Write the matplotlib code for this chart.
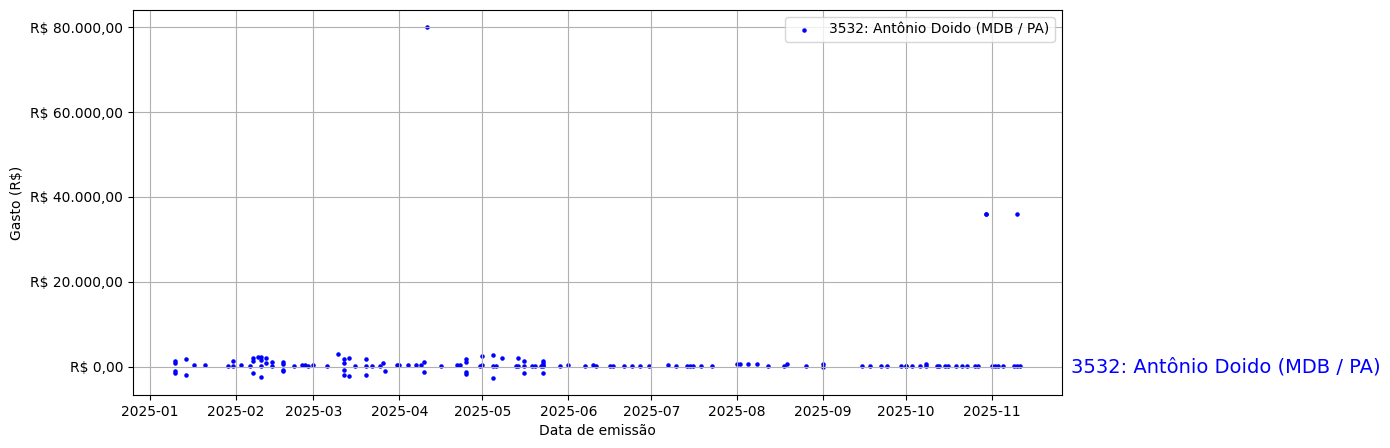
import numpy as np
import pandas as pd
import matplotlib
matplotlib.use("Agg")
import matplotlib.pyplot as plt
from matplotlib.ticker import FuncFormatter

label = "3532: Antônio Doido (MDB / PA)"

datas = [
    "2025-01-10", "2025-01-10", "2025-01-10", "2025-01-10",
    "2025-01-14", "2025-01-14", "2025-01-17", "2025-01-21", "2025-01-29",
    "2025-01-31", "2025-01-31", "2025-02-03", "2025-02-06",
    "2025-02-07", "2025-02-07", "2025-02-07",
    "2025-02-09", "2025-02-10", "2025-02-10", "2025-02-10", "2025-02-10",
    "2025-02-12", "2025-02-12", "2025-02-14", "2025-02-14",
    "2025-02-18", "2025-02-18", "2025-02-18", "2025-02-18",
    "2025-02-22", "2025-02-25", "2025-02-26", "2025-02-27", "2025-03-01", "2025-03-06",
    "2025-03-10", "2025-03-12", "2025-03-12", "2025-03-12", "2025-03-12",
    "2025-03-14", "2025-03-14", "2025-03-16",
    "2025-03-20", "2025-03-20", "2025-03-20", "2025-03-22", "2025-03-25",
    "2025-03-26", "2025-03-27", "2025-03-31", "2025-04-01", "2025-04-04",
    "2025-04-07", "2025-04-09", "2025-04-10", "2025-04-10", "2025-04-11",
    "2025-04-16", "2025-04-22", "2025-04-23",
    "2025-04-25", "2025-04-25", "2025-04-25", "2025-04-25",
    "2025-04-30", "2025-05-01", "2025-05-01",
    "2025-05-05", "2025-05-05", "2025-05-05", "2025-05-06", "2025-05-08",
    "2025-05-13", "2025-05-14", "2025-05-14",
    "2025-05-16", "2025-05-16", "2025-05-16",
    "2025-05-19", "2025-05-20", "2025-05-22", "2025-05-23",
    "2025-05-23", "2025-05-23", "2025-05-23", "2025-05-23",
    "2025-05-29", "2025-06-01", "2025-06-07", "2025-06-10", "2025-06-11",
    "2025-06-16", "2025-06-17", "2025-06-21", "2025-06-24", "2025-06-27",
    "2025-06-30", "2025-07-07", "2025-07-10", "2025-07-14", "2025-07-15",
    "2025-07-16", "2025-07-19", "2025-07-23",
    "2025-08-01", "2025-08-02", "2025-08-05", "2025-08-08", "2025-08-12",
    "2025-08-18", "2025-08-19", "2025-08-26", "2025-09-01", "2025-09-01",
    "2025-09-15", "2025-09-18", "2025-09-22", "2025-09-24",
    "2025-09-29", "2025-10-01", "2025-10-01", "2025-10-03",
    "2025-10-06", "2025-10-08", "2025-10-08",
    "2025-10-12", "2025-10-13", "2025-10-15", "2025-10-16",
    "2025-10-19", "2025-10-21", "2025-10-23", "2025-10-26", "2025-10-27",
    "2025-10-30", "2025-10-30",
    "2025-11-01", "2025-11-02", "2025-11-03", "2025-11-05",
    "2025-11-09", "2025-11-10", "2025-11-10", "2025-11-11",
]

gastos = [
    1300, 900, -1100, -1500,
    1900, -1900, 300, 400, 250,
    1250, 250, 300, 250,
    2100, 1400, -1400,
    2200, 2350, 1650, 250, -2500,
    1950, 950, 1200, 250,
    1000, 600, -700, -1100,
    250, 300, 400, 250, 400, 250,
    3000, 1900, 950, -700, -1900,
    2100, -2100, 250,
    1900, 250, -1900, 250, 250,
    950, -950, 300, 300, 300,
    300, 300, 1200, -1200, 80000,
    250, 300, 300,
    1900, 1200, -1200, -1650,
    250, 400, 2400,
    250, 2800, -2600, 250, 2100,
    250, 250, 2100,
    1400, 250, -1400,
    250, 250, 250, 250,
    1400, 800, 300, -1400,
    250, 400, 250, 400, 250,
    250, 250, 250, 250, 250,
    250, 400, 250, 250, 250,
    250, 250, 250,
    500, 500, 500, 500, 250,
    250, 500, 250, 500, 0,
    250, 250, 250, 250,
    250, 250, 250, 250,
    250, 500, 250,
    250, 250, 250, 250,
    250, 250, 250, 250, 250,
    36000, 35900,
    250, 250, 250, 250,
    250, 250, 36100, 250,
]

df = pd.DataFrame({"data": pd.to_datetime(datas), "gasto": gastos})


def reais(v, pos):
    s = f"{v:,.2f}".replace(",", "X").replace(".", ",").replace("X", ".")
    return "R$ " + s


fig, ax = plt.subplots(figsize=(13.9, 4.48), dpi=100)
fig.subplots_adjust(left=0.0955, right=0.764, top=0.978, bottom=0.118)

ax.scatter(df["data"], df["gasto"], s=5, color="blue", label=label)
ax.yaxis.set_major_formatter(FuncFormatter(reais))
ax.set_yticks([0, 20000, 40000, 60000, 80000])
ax.grid(True)
ax.set_xlabel("Data de emissão")
ax.set_ylabel("Gasto (R$)")
ax.legend(loc="upper right")

ax.annotate(label, xy=(1.0, 0), xycoords=("axes fraction", "data"),
            xytext=(6.5, 0), textcoords="offset points",
            color="blue", fontsize=14, va="center", ha="left")

fig.savefig("out.png", dpi=100)
